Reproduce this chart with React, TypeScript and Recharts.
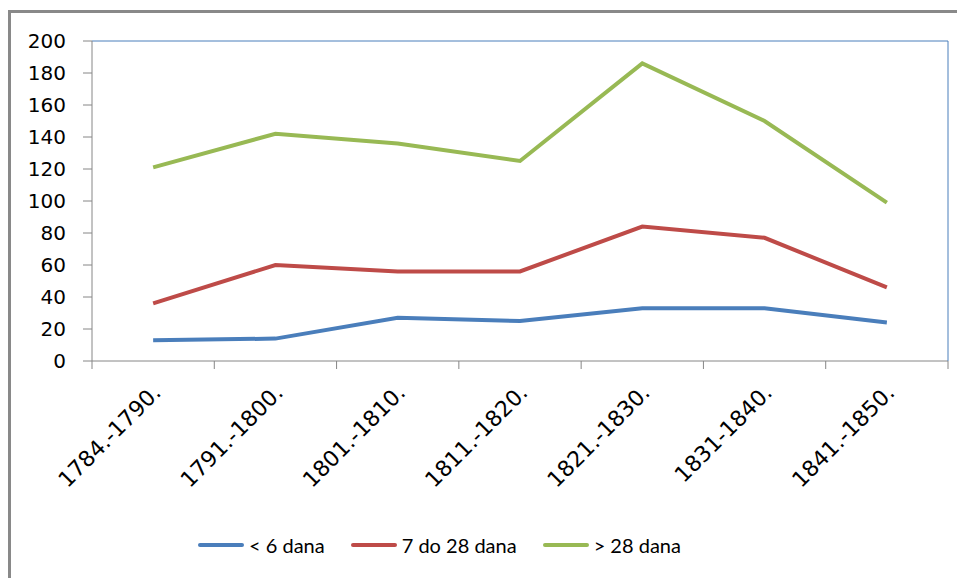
import React from 'react';
import {
  ComposedChart,
  Line,
  XAxis,
  YAxis,
  Legend,
  ReferenceLine,
} from 'recharts';

const periods = [
  '1784.-1790.',
  '1791.-1800.',
  '1801.-1810.',
  '1811.-1820.',
  '1821.-1830.',
  '1831-1840.',
  '1841.-1850.',
];
const seriesNames = ['< 6 dana', '7 do 28 dana', '> 28 dana'];
const under6 = [13, 14, 27, 25, 33, 33, 24];
const from7to28 = [36, 60, 56, 56, 84, 77, 46];
const over28 = [121, 142, 136, 125, 186, 150, 99];
const yTicks = [0, 20, 40, 60, 80, 100, 120, 140, 160, 180, 200];

const data = periods.map((p, i) => ({
  period: p,
  a: under6[i],
  b: from7to28[i],
  c: over28[i],
}));

const AXIS = '#868686';
const FRAME = '#4a7ebb';

function XTick(props: any) {
  const { x, y, payload, index, visibleTicksCount, width } = props;
  const half = payload.offset ?? width / visibleTicksCount / 2;
  const last = index === visibleTicksCount - 1;
  return (
    <g>
      <line x1={x - half} x2={x - half} y1={y} y2={y + 8} stroke={AXIS} />
      {last && <line x1={x + half} x2={x + half} y1={y} y2={y + 8} stroke={AXIS} />}
      <text
        transform={`translate(${x + 9},${y + 33}) rotate(-45)`}
        textAnchor="end"
        fontFamily="DejaVu Sans"
        fontSize={22}
        fill="#000"
      >
        {payload.value}
      </text>
    </g>
  );
}

function LegendBox({ payload }: any) {
  const items = [...(payload || [])].sort(
    (p: any, q: any) => seriesNames.indexOf(p.value) - seriesNames.indexOf(q.value)
  );
  return (
    <div style={{ display: 'flex', height: 30, alignItems: 'center', fontFamily: 'Lato', fontSize: 20 }}>
      {items.map((item: any) => (
        <div key={item.value} style={{ display: 'flex', alignItems: 'center', marginRight: 26 }}>
          <span
            style={{
              display: 'inline-block',
              width: 46,
              height: 4,
              borderRadius: 2,
              background: item.color,
              marginRight: 5,
            }}
          />
          <span style={{ color: '#000' }}>{item.value}</span>
        </div>
      ))}
    </div>
  );
}

export default function App() {
  return (
    <div
      style={{
        position: 'absolute',
        left: 0,
        top: 0,
        width: 957,
        height: 578,
        overflow: 'hidden',
        background: '#fff',
      }}
    >
      <div
        style={{
          position: 'absolute',
          left: 8,
          top: 10,
          width: 980,
          height: 600,
          border: '3px solid #898989',
        }}
      />
      <div style={{ position: 'absolute', left: 0, top: 0 }}>
        <ComposedChart
          width={957}
          height={578}
          data={data}
          margin={{ top: 41, right: 0, left: 0, bottom: 77 }}
        >
          <XAxis
            dataKey="period"
            scale="band"
            interval={0}
            height={110}
            tickSize={0}
            tickMargin={0}
            tickLine={false}
            axisLine={{ stroke: AXIS }}
            tick={<XTick />}
          />
          <YAxis
            width={92}
            domain={[0, 200]}
            ticks={yTicks}
            interval={0}
            tickSize={9}
            tickMargin={17}
            axisLine={{ stroke: AXIS }}
            tickLine={{ stroke: AXIS }}
            tick={{ fill: '#000', fontFamily: 'DejaVu Sans', fontSize: 20 }}
          />
          <YAxis
            yAxisId="r"
            orientation="right"
            width={9}
            domain={[0, 200]}
            tick={false}
            tickLine={false}
            axisLine={{ stroke: FRAME }}
          />
          <ReferenceLine y={200} stroke={FRAME} />
          <Legend
            content={<LegendBox />}
            wrapperStyle={{ left: 198, top: 530, width: 'auto' }}
          />
          <Line
            dataKey="a"
            name={seriesNames[0]}
            stroke="#4a7ebb"
            strokeWidth={4}
            dot={false}
            isAnimationActive={false}
          />
          <Line
            dataKey="b"
            name={seriesNames[1]}
            stroke="#be4b48"
            strokeWidth={4}
            dot={false}
            isAnimationActive={false}
          />
          <Line
            dataKey="c"
            name={seriesNames[2]}
            stroke="#98b954"
            strokeWidth={4}
            dot={false}
            isAnimationActive={false}
          />
        </ComposedChart>
      </div>
    </div>
  );
}
